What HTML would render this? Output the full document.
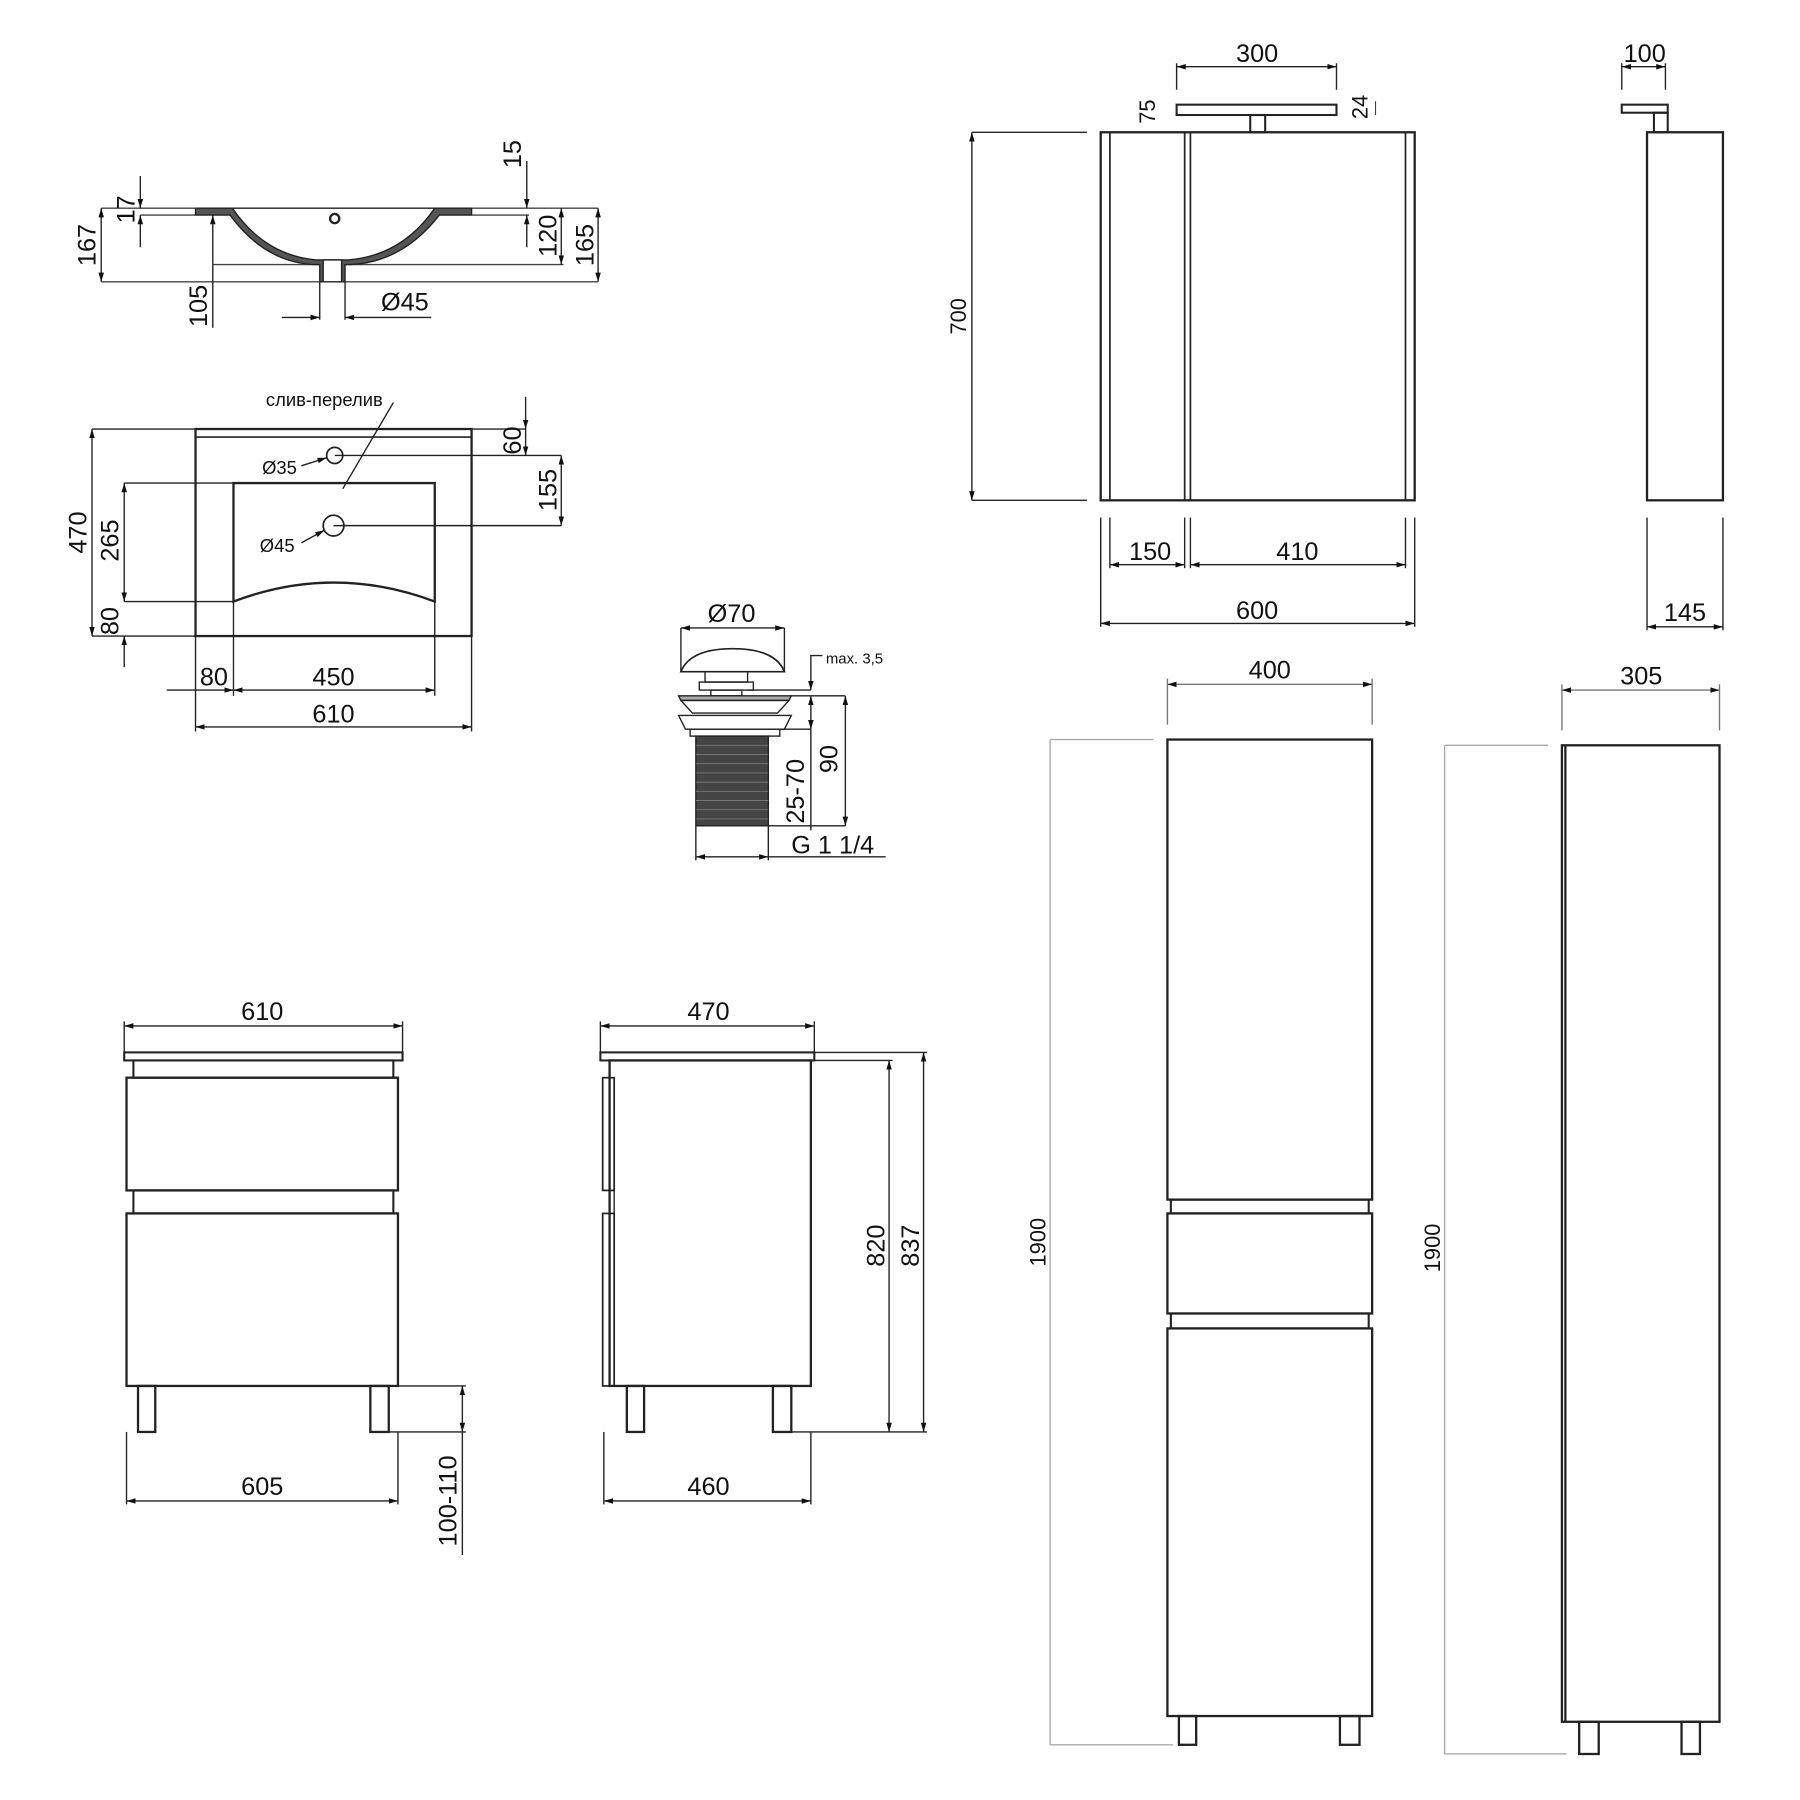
<!DOCTYPE html>
<html><head><meta charset="utf-8"><style>
html,body{margin:0;padding:0;background:#fff;}
svg{display:block;}
text{font-family:"Liberation Sans","DejaVu Sans",sans-serif;fill:#111;}
</style></head><body>
<svg width="1800" height="1800" viewBox="0 0 1565 1565" xmlns="http://www.w3.org/2000/svg">
<defs>
<marker id="a" viewBox="0 0 10 10" refX="10" refY="5" markerWidth="8" markerHeight="8" orient="auto-start-reverse" markerUnits="userSpaceOnUse"><path d="M0,2 L10,5 L0,8 z" fill="#111"/></marker>
</defs>
<g fill="none" stroke="#222" stroke-width="1.2">
<!-- SINK SIDE VIEW -->
<line x1="88" y1="181" x2="520" y2="181" stroke="#444"/>
<line x1="122" y1="187" x2="170" y2="187" stroke="#444"/>
<line x1="410" y1="187" x2="460" y2="187" stroke="#444"/>
<line x1="185" y1="230" x2="490" y2="230" stroke="#444"/>
<line x1="88" y1="245" x2="520" y2="245" stroke="#444"/>
<path d="M170,181 L410,181 L410,187 L382,187 Q350,228 305,230 L300,230 L300,245 L278,245 L278,230 L273,230 Q230,228 200,187 L170,187 Z" fill="#555" stroke="#222"/>
<path d="M202,181 Q230,222 275,226 L303,226 Q350,222 378,181 Z" fill="#fff" stroke="#222"/>
<rect x="281" y="226" width="16" height="19" fill="#fff"/>
<circle cx="291" cy="190" r="4" stroke-width="2"/>
<line x1="88" y1="181" x2="88" y2="245" marker-start="url(#a)" marker-end="url(#a)"/>
<line x1="122" y1="153" x2="122" y2="181" marker-end="url(#a)"/>
<line x1="122" y1="215" x2="122" y2="187" marker-end="url(#a)"/>
<line x1="185" y1="285" x2="185" y2="187" marker-end="url(#a)"/>
<line x1="458" y1="140" x2="458" y2="181" marker-end="url(#a)"/>
<line x1="458" y1="215" x2="458" y2="187" marker-end="url(#a)"/>
<line x1="488" y1="181" x2="488" y2="230" marker-start="url(#a)" marker-end="url(#a)"/>
<line x1="520" y1="181" x2="520" y2="245" marker-start="url(#a)" marker-end="url(#a)"/>
<line x1="278" y1="245" x2="278" y2="278"/><line x1="300" y1="245" x2="300" y2="278"/>
<line x1="245" y1="276" x2="278" y2="276" marker-end="url(#a)"/>
<line x1="375" y1="276" x2="300" y2="276" marker-end="url(#a)"/>

<!-- SINK TOP VIEW -->
<rect x="170" y="373" width="240" height="180" stroke-width="2"/>
<line x1="170" y1="380" x2="410" y2="380" stroke-width="1.5"/>
<path d="M203,420 L378,420 L378,523 Q290,490 203,523 Z" stroke-width="2"/>
<circle cx="291" cy="396" r="7" stroke-width="1.5"/>
<circle cx="290" cy="457" r="9" stroke-width="1.5"/>
<line x1="80" y1="373" x2="170" y2="373"/><line x1="80" y1="553" x2="170" y2="553"/>
<line x1="108" y1="420" x2="203" y2="420"/><line x1="108" y1="523" x2="203" y2="523"/>
<line x1="80" y1="373" x2="80" y2="553" marker-start="url(#a)" marker-end="url(#a)"/>
<line x1="108" y1="420" x2="108" y2="523" marker-start="url(#a)" marker-end="url(#a)"/>
<line x1="108" y1="580" x2="108" y2="553" marker-end="url(#a)"/>
<line x1="291" y1="396" x2="488" y2="396"/><line x1="290" y1="457" x2="488" y2="457"/>
<line x1="457" y1="345" x2="457" y2="373" marker-end="url(#a)"/>
<line x1="410" y1="373" x2="457" y2="373"/>
<line x1="457" y1="373" x2="457" y2="396" marker-end="url(#a)"/>
<line x1="488" y1="396" x2="488" y2="457" marker-start="url(#a)" marker-end="url(#a)"/>
<line x1="170" y1="553" x2="170" y2="636"/><line x1="203" y1="523" x2="203" y2="605"/>
<line x1="378" y1="523" x2="378" y2="605"/><line x1="410" y1="553" x2="410" y2="636"/>
<line x1="145" y1="600" x2="203" y2="600" marker-end="url(#a)"/>
<line x1="203" y1="600" x2="378" y2="600" marker-start="url(#a)" marker-end="url(#a)"/>
<line x1="170" y1="632" x2="410" y2="632" marker-start="url(#a)" marker-end="url(#a)"/>
<line x1="342" y1="350" x2="298" y2="425"/>
<line x1="262" y1="405" x2="284" y2="398" marker-end="url(#a)"/>
<line x1="262" y1="472" x2="282" y2="461" marker-end="url(#a)"/>

<!-- DRAIN -->
<line x1="592" y1="546" x2="682" y2="546" marker-start="url(#a)" marker-end="url(#a)"/>
<line x1="592" y1="546" x2="592" y2="584"/><line x1="682" y1="546" x2="682" y2="584"/>
<path d="M592,584 Q600,564 637,564 Q674,564 682,584 Z" stroke-width="1.5"/>
<rect x="613" y="584" width="37" height="9"/><rect x="608" y="593" width="47" height="7"/>
<rect x="618" y="600" width="27" height="5"/>
<path d="M590,605 L688,605 L686,609 L592,609 Z" fill="#aaa"/>
<path d="M592,609 L686,609 L676,620 L602,620 Z"/>
<path d="M590,622 L688,622 L682,634 L596,634 Z"/>
<rect x="600" y="634" width="78" height="6"/>
<rect x="605" y="640" width="63" height="78" fill="#444"/>
<g stroke="#777" stroke-width="0.8">
<line x1="605" y1="648" x2="668" y2="648"/><line x1="605" y1="656" x2="668" y2="656"/><line x1="605" y1="664" x2="668" y2="664"/><line x1="605" y1="672" x2="668" y2="672"/><line x1="605" y1="680" x2="668" y2="680"/><line x1="605" y1="688" x2="668" y2="688"/><line x1="605" y1="696" x2="668" y2="696"/><line x1="605" y1="704" x2="668" y2="704"/><line x1="605" y1="712" x2="668" y2="712"/></g>
<line x1="650" y1="600" x2="705" y2="600"/><line x1="688" y1="605" x2="735" y2="605"/>
<line x1="676" y1="634" x2="705" y2="634"/><line x1="668" y1="718" x2="735" y2="718"/>
<polyline points="715,570 705,570 705,600" marker-end="url(#a)"/>
<line x1="705" y1="605" x2="705" y2="634" marker-start="url(#a)" marker-end="url(#a)"/>
<line x1="705" y1="634" x2="705" y2="722"/>
<line x1="735" y1="605" x2="735" y2="718" marker-start="url(#a)" marker-end="url(#a)"/>
<line x1="605" y1="718" x2="605" y2="748"/><line x1="668" y1="718" x2="668" y2="748"/>
<line x1="605" y1="745" x2="668" y2="745" marker-start="url(#a)" marker-end="url(#a)"/>
<line x1="668" y1="745" x2="770" y2="745"/>

<!-- VANITY FRONT -->
<rect x="108" y="915" width="242" height="7" stroke-width="1.8"/>
<rect x="116" y="922" width="226" height="15" stroke-width="1.8"/>
<rect x="110" y="937" width="236" height="98" stroke-width="2"/>
<rect x="116" y="1035" width="226" height="20" stroke-width="1.8"/>
<rect x="110" y="1055" width="236" height="150" stroke-width="2"/>
<rect x="120" y="1205" width="15" height="40" stroke-width="2"/>
<rect x="322" y="1205" width="16" height="40" stroke-width="2"/>
<line x1="108" y1="892" x2="350" y2="892" marker-start="url(#a)" marker-end="url(#a)"/>
<line x1="108" y1="888" x2="108" y2="915"/><line x1="350" y1="888" x2="350" y2="915"/>
<line x1="110" y1="1245" x2="110" y2="1308"/><line x1="346" y1="1245" x2="346" y2="1308"/>
<line x1="110" y1="1305" x2="346" y2="1305" marker-start="url(#a)" marker-end="url(#a)"/>
<line x1="346" y1="1205" x2="405" y2="1205"/><line x1="338" y1="1245" x2="405" y2="1245"/>
<line x1="402" y1="1205" x2="402" y2="1245" marker-start="url(#a)" marker-end="url(#a)"/>
<line x1="402" y1="1245" x2="402" y2="1352"/>

<!-- VANITY SIDE -->
<rect x="522" y="915" width="186" height="7" stroke-width="1.8"/>
<rect x="530" y="922" width="175" height="283" stroke-width="2"/>
<line x1="534" y1="937" x2="534" y2="1205"/>
<rect x="524" y="937" width="10" height="98" stroke-width="1.5"/>
<rect x="524" y="1055" width="10" height="150" stroke-width="1.5"/>
<rect x="545" y="1205" width="15" height="40" stroke-width="2"/>
<rect x="672" y="1205" width="16" height="40" stroke-width="2"/>
<line x1="522" y1="892" x2="708" y2="892" marker-start="url(#a)" marker-end="url(#a)"/>
<line x1="522" y1="888" x2="522" y2="915"/><line x1="708" y1="888" x2="708" y2="915"/>
<line x1="525" y1="1245" x2="525" y2="1308"/><line x1="705" y1="1245" x2="705" y2="1308"/>
<line x1="525" y1="1305" x2="705" y2="1305" marker-start="url(#a)" marker-end="url(#a)"/>
<line x1="708" y1="915" x2="806" y2="915"/><line x1="705" y1="922" x2="776" y2="922"/>
<line x1="688" y1="1245" x2="806" y2="1245"/>
<line x1="773" y1="922" x2="773" y2="1245" marker-start="url(#a)" marker-end="url(#a)"/>
<line x1="803" y1="915" x2="803" y2="1245" marker-start="url(#a)" marker-end="url(#a)"/>

<!-- MIRROR CABINET FRONT -->
<rect x="957" y="115" width="273" height="320" stroke-width="2"/>
<line x1="965" y1="115" x2="965" y2="435" stroke-width="1.5"/>
<line x1="1222" y1="115" x2="1222" y2="435" stroke-width="1.5"/>
<line x1="1030" y1="115" x2="1030" y2="435" stroke-width="1.5"/>
<line x1="1035" y1="115" x2="1035" y2="435" stroke-width="1.5"/>
<rect x="1023" y="91" width="139" height="9" stroke-width="1.8"/>
<rect x="1087" y="100" width="13" height="15" stroke-width="1.8"/>
<line x1="1023" y1="58" x2="1162" y2="58" marker-start="url(#a)" marker-end="url(#a)"/>
<line x1="1023" y1="55" x2="1023" y2="78"/><line x1="1162" y1="55" x2="1162" y2="78"/>
<line x1="1196" y1="88" x2="1196" y2="100" stroke-width="0.8"/>
<line x1="845" y1="115" x2="945" y2="115"/><line x1="845" y1="435" x2="945" y2="435"/>
<line x1="845" y1="115" x2="845" y2="435" marker-start="url(#a)" marker-end="url(#a)"/>
<line x1="957" y1="450" x2="957" y2="545"/><line x1="1230" y1="450" x2="1230" y2="545"/>
<line x1="965" y1="450" x2="965" y2="494"/><line x1="1030" y1="450" x2="1030" y2="494"/>
<line x1="1035" y1="450" x2="1035" y2="494"/><line x1="1222" y1="450" x2="1222" y2="494"/>
<line x1="965" y1="491" x2="1030" y2="491" marker-start="url(#a)" marker-end="url(#a)"/>
<line x1="1035" y1="491" x2="1222" y2="491" marker-start="url(#a)" marker-end="url(#a)"/>
<line x1="957" y1="542" x2="1230" y2="542" marker-start="url(#a)" marker-end="url(#a)"/>

<!-- MIRROR SIDE -->
<rect x="1432" y="115" width="66" height="320" stroke-width="2"/>
<rect x="1410" y="91" width="40" height="7" stroke-width="1.8"/>
<rect x="1438" y="98" width="12" height="17" stroke-width="1.8"/>
<line x1="1410" y1="58" x2="1448" y2="58" marker-start="url(#a)" marker-end="url(#a)"/>
<line x1="1410" y1="55" x2="1410" y2="78"/><line x1="1448" y1="55" x2="1448" y2="78"/>
<line x1="1432" y1="450" x2="1432" y2="548"/><line x1="1498" y1="450" x2="1498" y2="548"/>
<line x1="1432" y1="545" x2="1498" y2="545" marker-start="url(#a)" marker-end="url(#a)"/>

<!-- TALL CABINET FRONT -->
<rect x="1015" y="643" width="178" height="400" stroke-width="2"/>
<rect x="1018" y="1043" width="172" height="12" stroke-width="1.8"/>
<rect x="1015" y="1055" width="178" height="87" stroke-width="2"/>
<rect x="1018" y="1142" width="172" height="13" stroke-width="1.8"/>
<rect x="1015" y="1155" width="178" height="337" stroke-width="2"/>
<rect x="1025" y="1492" width="15" height="25" stroke-width="2"/>
<rect x="1165" y="1492" width="17" height="25" stroke-width="2"/>
<line x1="1015" y1="590" x2="1015" y2="630" stroke="#777"/><line x1="1193" y1="590" x2="1193" y2="630" stroke="#777"/>
<line x1="1015" y1="595" x2="1193" y2="595" stroke="#777" marker-start="url(#a)" marker-end="url(#a)"/>
<line x1="913" y1="643" x2="1003" y2="643" stroke="#aaa"/><line x1="913" y1="1517" x2="1020" y2="1517" stroke="#aaa"/>
<line x1="913" y1="643" x2="913" y2="1517" stroke="#aaa"/>

<!-- TALL CABINET SIDE -->
<rect x="1358" y="648" width="137" height="849" stroke-width="2"/>
<line x1="1361" y1="648" x2="1361" y2="1497" stroke-width="2"/>
<rect x="1373" y="1497" width="17" height="28" stroke-width="2"/>
<rect x="1462" y="1497" width="16" height="28" stroke-width="2"/>
<line x1="1358" y1="595" x2="1358" y2="635" stroke="#777"/><line x1="1495" y1="595" x2="1495" y2="635" stroke="#777"/>
<line x1="1358" y1="600" x2="1495" y2="600" stroke="#777" marker-start="url(#a)" marker-end="url(#a)"/>
<line x1="1256" y1="648" x2="1346" y2="648" stroke="#aaa"/><line x1="1256" y1="1525" x2="1362" y2="1525" stroke="#aaa"/>
<line x1="1256" y1="648" x2="1256" y2="1525" stroke="#aaa"/>
</g>

<g font-size="22">
<text transform="translate(83,213) rotate(-90)" text-anchor="middle">167</text>
<text transform="translate(117,182) rotate(-90)" text-anchor="middle">17</text>
<text transform="translate(180,266) rotate(-90)" text-anchor="middle">105</text>
<text transform="translate(453,134) rotate(-90)" text-anchor="middle">15</text>
<text transform="translate(484,205) rotate(-90)" text-anchor="middle">120</text>
<text transform="translate(516,213) rotate(-90)" text-anchor="middle">165</text>
<text x="352" y="270" text-anchor="middle">Ø45</text>
<text transform="translate(75,463) rotate(-90)" text-anchor="middle">470</text>
<text transform="translate(103,470) rotate(-90)" text-anchor="middle">265</text>
<text transform="translate(103,540) rotate(-90)" text-anchor="middle">80</text>
<text transform="translate(453,383) rotate(-90)" text-anchor="middle">60</text>
<text transform="translate(484,426) rotate(-90)" text-anchor="middle">155</text>
<text x="186" y="596" text-anchor="middle">80</text>
<text x="290" y="596" text-anchor="middle">450</text>
<text x="290" y="628" text-anchor="middle">610</text>
<text x="636" y="541" text-anchor="middle">Ø70</text>
<text transform="translate(728,660) rotate(-90)" text-anchor="middle">90</text>
<text transform="translate(699,688) rotate(-90)" text-anchor="middle">25-70</text>
<text x="724" y="742" text-anchor="middle">G 1 1/4</text>
<text x="228" y="887" text-anchor="middle">610</text>
<text x="228" y="1300" text-anchor="middle">605</text>
<text transform="translate(397,1305) rotate(-90)" text-anchor="middle">100-110</text>
<text x="616" y="887" text-anchor="middle">470</text>
<text x="616" y="1300" text-anchor="middle">460</text>
<text transform="translate(769,1083) rotate(-90)" text-anchor="middle">820</text>
<text transform="translate(799,1083) rotate(-90)" text-anchor="middle">837</text>
<text x="1093" y="54" text-anchor="middle">300</text>
<text transform="translate(1004,97) rotate(-90)" text-anchor="middle" font-size="19">75</text>
<text transform="translate(1189,93) rotate(-90)" text-anchor="middle" font-size="19">24</text>
<text x="1000" y="487" text-anchor="middle">150</text>
<text x="1128" y="487" text-anchor="middle">410</text>
<text x="1093" y="538" text-anchor="middle">600</text>
<text x="1430" y="54" text-anchor="middle">100</text>
<text x="1465" y="540" text-anchor="middle">145</text>
<text x="1104" y="590" text-anchor="middle">400</text>
<text x="1427" y="595" text-anchor="middle">305</text>
</g>
<g font-size="19">
<text transform="translate(840,275) rotate(-90)" text-anchor="middle">700</text>
<text transform="translate(909,1080) rotate(-90)" text-anchor="middle">1900</text>
<text transform="translate(1252,1085) rotate(-90)" text-anchor="middle">1900</text>
</g>
<g font-size="16">
<text x="282" y="353" text-anchor="middle">слив-перелив</text>
<text x="243" y="412" text-anchor="middle">Ø35</text>
<text x="241" y="480" text-anchor="middle">Ø45</text>
</g>
<text x="718" y="577" font-size="13">max. 3,5</text>
</svg>
</body></html>
